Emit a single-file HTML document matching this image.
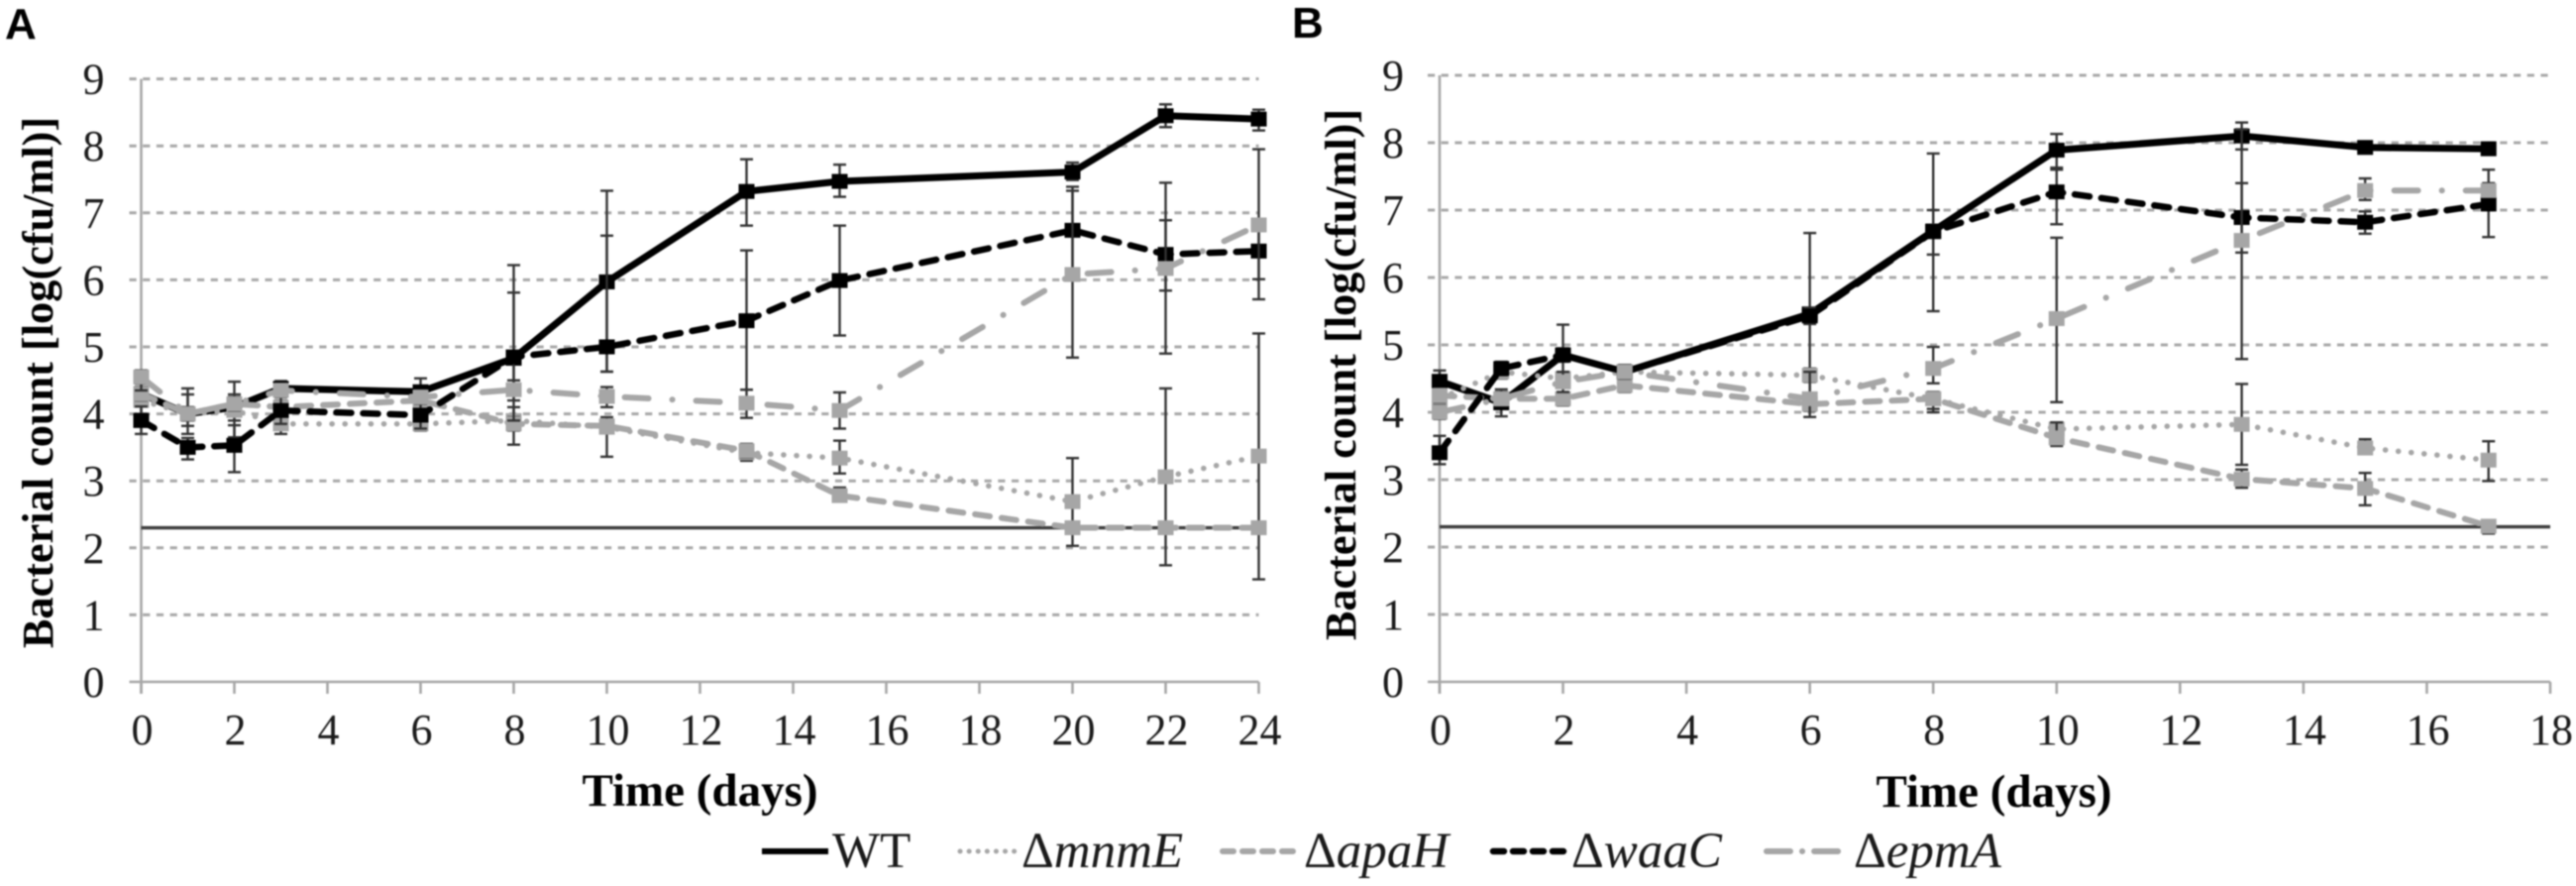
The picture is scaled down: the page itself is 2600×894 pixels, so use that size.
<!DOCTYPE html>
<html>
<head>
<meta charset="utf-8">
<title>Bacterial count over time</title>
<style>
html,body{margin:0;padding:0;background:#fff;width:2600px;height:894px;overflow:hidden}
svg{display:block;filter:blur(0.7px)}
text{font-family:"Liberation Serif",serif;fill:#1a1a1a}
.panel-letter{font-family:"Liberation Sans",sans-serif;font-weight:700;font-size:44px;fill:#000}
.tick{font-size:44px}
.axis-title{font-weight:700;fill:#000}
.legend-text{font-size:51px}
.grid{stroke:#a8a8a8;stroke-width:3;stroke-dasharray:7.2 6.5;fill:none}
.axis{stroke:#a6a6a6;stroke-width:2.6;fill:none}
.limit{stroke:#3c3c3c;stroke-width:3.4;fill:none}
.err{stroke:#333;stroke-width:2.4;fill:none}
.line{fill:none}
.wt{stroke:#000;stroke-width:7}
.mnme{stroke:#a6a6a6;stroke-width:5.5;stroke-dasharray:.1 13;stroke-linecap:round}
.apah{stroke:#a6a6a6;stroke-width:6;stroke-dasharray:15 12;stroke-linecap:round}
.waac{stroke:#000;stroke-width:6.5;stroke-dasharray:15 12;stroke-linecap:round}
.epma{stroke:#a6a6a6;stroke-width:6;stroke-dasharray:24 24 .1 24;stroke-linecap:round}
.mk-dark{fill:#000}
.mk-light{fill:#a6a6a6}
</style>
</head>
<body>
<svg id="chart" xmlns="http://www.w3.org/2000/svg" width="2600" height="894" viewBox="0 0 2600 894">
  <rect x="0" y="0" width="2600" height="894" fill="#fff"/>
  <text class="panel-letter" x="5" y="39">A</text>
  <text class="panel-letter" x="1304" y="38">B</text>

  <text class="axis-title" font-size="44.3" text-anchor="middle" transform="translate(53 386) rotate(-90)">Bacterial count [log(cfu/ml)]</text>
  <text class="axis-title" font-size="44.3" text-anchor="middle" transform="translate(1368 378) rotate(-90)">Bacterial count [log(cfu/ml)]</text>
  <text class="axis-title" font-size="47" text-anchor="middle" x="706.5" y="813">Time (days)</text>
  <text class="axis-title" font-size="47" text-anchor="middle" x="2012.5" y="814">Time (days)</text>

  <g id="panel-a"></g>
  <g id="panel-b"></g>

  <g>
    <line class="wt" x1="769" y1="859" x2="836" y2="859" style="stroke-width:6"/>
    <text class="legend-text" x="840" y="875">WT</text>
    <line class="mnme" x1="969" y1="859" x2="1026" y2="859" style="stroke-dasharray:.1 9;stroke-width:5"/>
    <text class="legend-text" x="1031" y="875">Δ<tspan font-style="italic">mnmE</tspan></text>
    <line class="apah" x1="1234" y1="859" x2="1308" y2="859" style="stroke-dasharray:11 9"/>
    <text class="legend-text" x="1316" y="875">Δ<tspan font-style="italic">apaH</tspan></text>
    <line class="waac" x1="1507" y1="859" x2="1582" y2="859" style="stroke-dasharray:11 9"/>
    <text class="legend-text" x="1586" y="875">Δ<tspan font-style="italic">waaC</tspan></text>
    <line class="epma" x1="1783" y1="859" x2="1856" y2="859" style="stroke-dasharray:24 12 .1 12"/>
    <text class="legend-text" x="1871" y="875">Δ<tspan font-style="italic">epmA</tspan></text>
  </g>
</svg>
<script>
// ---- Axis tick labels ----
var yTicks = [0,1,2,3,4,5,6,7,8,9];
var xTicksA = [0,2,4,6,8,10,12,14,16,18,20,22,24];
var xTicksB = [0,2,4,6,8,10,12,14,16,18];
var detectionLimit = [2.3];

// ---- Panel A ----
var daysA = [0,1,2,3,6,8,10,13,15,20,22,24];
var wtA      = [4.30,4.00,4.10,4.38,4.33,4.83,5.97,7.32,7.47,7.61,8.45,8.40];
var wtHighA  = [4.45,4.38,4.29,4.49,4.53,6.22,7.33,7.80,7.72,7.75,8.62,8.54];
var wtLowA   = [4.15,3.82,3.90,4.27,4.13,4.30,4.63,6.81,7.24,7.49,8.28,8.23];
var mnmeA     = [4.20,4.00,4.05,3.85,3.85,3.90,3.80,3.42,3.34,2.69,3.06,3.37];
var mnmeHighA = [4.40,4.29,4.48,3.95,3.95,4.10,3.95,3.55,3.60,3.34,4.38,5.20];
var mnmeLowA  = [4.00,3.70,3.65,3.70,3.75,3.54,3.36,3.30,3.11,2.03,1.74,1.53];
var apahA     = [4.30,4.00,4.15,4.10,4.20,3.85,3.82,3.45,2.78,2.30,2.30,2.30];
var apahHighA = [4.40,4.10,4.25,4.20,4.30,3.95,3.90,3.55,2.90,2.30,2.30,2.30];
var apahLowA  = [4.20,3.90,4.05,4.00,4.10,3.75,3.74,3.35,2.70,2.30,2.30,2.30];
var waacA     = [3.90,3.50,3.53,4.05,3.98,4.85,5.00,5.39,5.99,6.74,6.38,6.43];
var waacHighA = [4.11,3.64,3.83,4.25,4.18,5.81,6.66,6.44,6.81,7.39,6.89,6.90];
var waacLowA  = [3.70,3.32,3.13,3.85,3.78,3.90,4.63,4.36,5.17,6.09,5.84,6.01];
var epmaA     = [4.55,4.00,4.15,4.35,4.25,4.36,4.26,4.16,4.05,6.08,6.17,6.82];
var epmaHighA = [4.65,4.10,4.25,4.45,4.35,4.50,4.40,4.36,4.32,7.33,7.45,7.95];
var epmaLowA  = [4.35,3.90,4.05,4.25,4.15,4.20,4.10,3.94,3.78,4.84,4.90,5.71];

// ---- Panel B ----
var daysB = [0,1,2,3,6,8,10,13,15,17];
var wtB      = [4.46,4.14,4.85,4.60,5.46,6.69,7.89,8.10,7.93,7.91];
var wtHighB  = [4.62,4.34,5.30,4.70,6.66,7.00,8.13,8.30,8.00,8.00];
var wtLowB   = [4.30,3.94,4.40,4.43,4.25,6.34,7.63,7.90,7.86,7.82];
var mnmeB     = [4.20,4.60,4.50,4.60,4.55,4.20,3.75,3.82,3.47,3.29];
var mnmeHighB = [4.30,4.70,4.60,4.70,4.65,4.30,3.85,4.42,3.60,3.57];
var mnmeLowB  = [4.10,4.50,4.40,4.50,4.45,4.05,3.60,3.22,3.40,2.98];
var apahB     = [4.25,4.20,4.20,4.40,4.12,4.20,3.62,3.01,2.87,2.31];
var apahHighB = [4.35,4.30,4.30,4.50,4.22,4.30,3.85,3.15,3.10,2.40];
var apahLowB  = [4.15,4.10,4.10,4.30,4.02,4.00,3.50,2.88,2.62,2.20];
var waacB     = [3.40,4.65,4.85,4.60,5.43,6.68,7.27,6.89,6.82,7.09];
var waacHighB = [3.65,4.75,4.95,4.70,5.55,7.84,7.60,7.40,6.98,7.60];
var waacLowB  = [3.23,4.55,4.75,4.50,5.31,5.50,6.79,6.37,6.65,6.60];
var epmaB     = [4.00,4.20,4.45,4.60,4.20,4.65,5.39,6.55,7.29,7.29];
var epmaHighB = [4.10,4.30,4.60,4.70,4.60,4.97,6.59,8.20,7.47,7.40];
var epmaLowB  = [3.90,4.10,4.30,4.50,3.93,4.43,4.15,4.79,7.15,7.20];

var SVGNS = 'http://www.w3.org/2000/svg';

function make(parent, tag, cls) {
  var el = document.createElementNS(SVGNS, tag);
  if (cls) el.setAttribute('class', cls);
  
  parent.appendChild(el);
  return el;
}

function drawPanel(root, frame, yLabels, xLabels, days, seriesList) {
  function sx(d) { return frame.left + (d - xLabels[0]) * frame.span / (xLabels[xLabels.length - 1] - xLabels[0]); }
  function sy(v) { return frame.bottom - v * frame.unit; }

  yLabels.forEach(function (v) {
    if (v > 0) {
      var g = make(root, 'line', 'grid');
      
      g.setAttribute('x1', sx(xLabels[0]) - 12);
      g.setAttribute('x2', sx(xLabels[xLabels.length - 1]));
      g.setAttribute('y1', sy(v));
      g.setAttribute('y2', sy(v));
    }
    var t = make(root, 'text', 'tick');
    
    t.setAttribute('x', sx(xLabels[0]) - frame.yLabelGap);
    t.setAttribute('y', sy(v) + 15);
    t.setAttribute('text-anchor', 'end');
    t.textContent = v;
  });

  var yAxis = make(root, 'line', 'axis');
  
  yAxis.setAttribute('x1', sx(xLabels[0]));
  yAxis.setAttribute('x2', sx(xLabels[0]));
  yAxis.setAttribute('y1', sy(yLabels[yLabels.length - 1]));
  yAxis.setAttribute('y2', sy(0) + 12);

  var xAxis = make(root, 'line', 'axis');
  
  xAxis.setAttribute('x1', sx(xLabels[0]) - 12);
  xAxis.setAttribute('x2', sx(xLabels[xLabels.length - 1]));
  xAxis.setAttribute('y1', sy(0));
  xAxis.setAttribute('y2', sy(0));

  xLabels.forEach(function (d) {
    var tk = make(root, 'line', 'axis');
    
    tk.setAttribute('x1', sx(d));
    tk.setAttribute('x2', sx(d));
    tk.setAttribute('y1', sy(0));
    tk.setAttribute('y2', sy(0) + 12);
    var t = make(root, 'text', 'tick');
    
    t.setAttribute('x', sx(d) + 1);
    t.setAttribute('y', sy(0) + 63);
    t.setAttribute('text-anchor', 'middle');
    t.textContent = d;
  });

  var lim = make(root, 'line', 'limit');
  
  lim.setAttribute('x1', sx(xLabels[0]));
  lim.setAttribute('x2', sx(xLabels[xLabels.length - 1]));
  lim.setAttribute('y1', sy(detectionLimit[0]));
  lim.setAttribute('y2', sy(detectionLimit[0]));

  seriesList.forEach(function (s) {
    days.forEach(function (d, i) {
      if (s.high[i] === s.low[i]) return;
      var v = make(root, 'line', 'err');
      
      v.setAttribute('x1', sx(d));
      v.setAttribute('x2', sx(d));
      v.setAttribute('y1', sy(s.high[i]));
      v.setAttribute('y2', sy(s.low[i]));
      [s.high[i], s.low[i]].forEach(function (c) {
        var cap = make(root, 'line', 'err');
        
        cap.setAttribute('x1', sx(d) - 6.5);
        cap.setAttribute('x2', sx(d) + 6.5);
        cap.setAttribute('y1', sy(c));
        cap.setAttribute('y2', sy(c));
      });
    });
    var path = make(root, 'polyline', 'line ' + s.cls);
    
    path.setAttribute('points', days.map(function (d, i) { return sx(d) + ',' + sy(s.values[i]); }).join(' '));
    days.forEach(function (d, i) {
      var m = make(root, 'rect', s.marker);
      
      m.setAttribute('x', sx(d) - 8);
      m.setAttribute('y', sy(s.values[i]) - 7.5);
      m.setAttribute('width', 16);
      m.setAttribute('height', 15);
    });
  });
}

drawPanel(document.getElementById('panel-a'),
  {left: 142.5, span: 1128, bottom: 688, unit: 67.6, yLabelGap: 37},
  yTicks, xTicksA, daysA, [
    {cls: 'wt',   marker: 'mk-dark',  values: wtA,   high: wtHighA,   low: wtLowA},
    {cls: 'mnme', marker: 'mk-light', values: mnmeA, high: mnmeHighA, low: mnmeLowA},
    {cls: 'apah', marker: 'mk-light', values: apahA, high: apahHighA, low: apahLowA},
    {cls: 'waac', marker: 'mk-dark',  values: waacA, high: waacHighA, low: waacLowA},
    {cls: 'epma', marker: 'mk-light', values: epmaA, high: epmaHighA, low: epmaLowA}
  ]);

drawPanel(document.getElementById('panel-b'),
  {left: 1453, span: 1121, bottom: 688, unit: 68, yLabelGap: 36},
  yTicks, xTicksB, daysB, [
    {cls: 'wt',   marker: 'mk-dark',  values: wtB,   high: wtHighB,   low: wtLowB},
    {cls: 'mnme', marker: 'mk-light', values: mnmeB, high: mnmeHighB, low: mnmeLowB},
    {cls: 'apah', marker: 'mk-light', values: apahB, high: apahHighB, low: apahLowB},
    {cls: 'waac', marker: 'mk-dark',  values: waacB, high: waacHighB, low: waacLowB},
    {cls: 'epma', marker: 'mk-light', values: epmaB, high: epmaHighB, low: epmaLowB}
  ]);
</script>
</body>
</html>
